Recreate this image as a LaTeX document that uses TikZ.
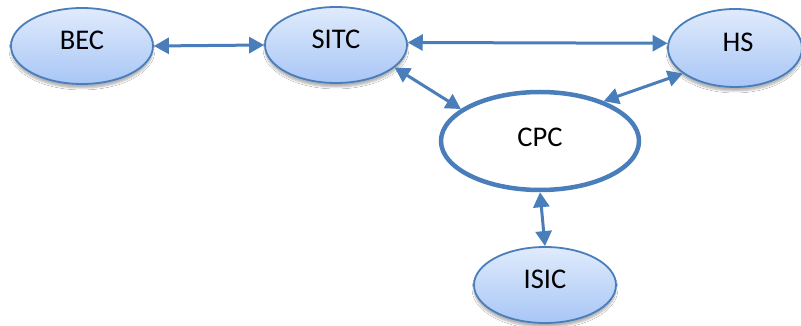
\documentclass[tikz,border=0pt]{standalone}
\usepackage{fontspec}
\setmainfont{Carlito}
\usetikzlibrary{shapes.geometric,arrows.meta,shadows.blur}
\definecolor{edge}{HTML}{4A7EBB}
\definecolor{ltop}{HTML}{E0EBFC}
\definecolor{lbot}{HTML}{A8C6F6}
\tikzset{
  blueell/.style={ellipse, draw=edge, line width=1.8pt, top color=ltop, bottom color=lbot,
    inner sep=0pt, minimum width=142pt, minimum height=76pt,
    blur shadow={shadow xshift=0pt, shadow yshift=-4pt, shadow blur steps=6, shadow opacity=30}},
  cpcell/.style={ellipse, draw=edge, line width=4.5pt, fill=white,
    inner sep=0pt, minimum width=198pt, minimum height=98pt},
  txt/.style={font=\fontsize{28.5}{30}\selectfont, yshift=6pt},
  link/.style={draw=edge, line width=3pt, {Triangle[length=15pt,width=16pt]}-{Triangle[length=15pt,width=16pt]}}
}
\begin{document}
\begin{tikzpicture}[x=1pt,y=1pt]
\useasboundingbox (0,0) rectangle (801,326);
\fill[white] (0,0) rectangle (801,326);
\node[blueell, label={[txt]center:BEC}] (bec) at (82,280) {};
\node[blueell, label={[txt]center:SITC}] (sitc) at (336,281) {};
\node[blueell, minimum width=134pt, minimum height=78pt, label={[txt,xshift=3pt]center:HS}] (hs) at (735,278) {};
\node[cpcell, label={[txt,yshift=-2.5pt]center:CPC}] (cpc) at (540,185) {};
\node[blueell, label={[txt]center:ISIC}] (isic) at (545,41) {};
\draw[link] (bec.east) -- (sitc.west);
\draw[link] (sitc.2) -- (hs.176);
\draw[link] (sitc.-21) -- (cpc.158);
\draw[link] (hs.206) -- (cpc.32);
\draw[link] (cpc.south) -- (isic.north);
\end{tikzpicture}
\end{document}
